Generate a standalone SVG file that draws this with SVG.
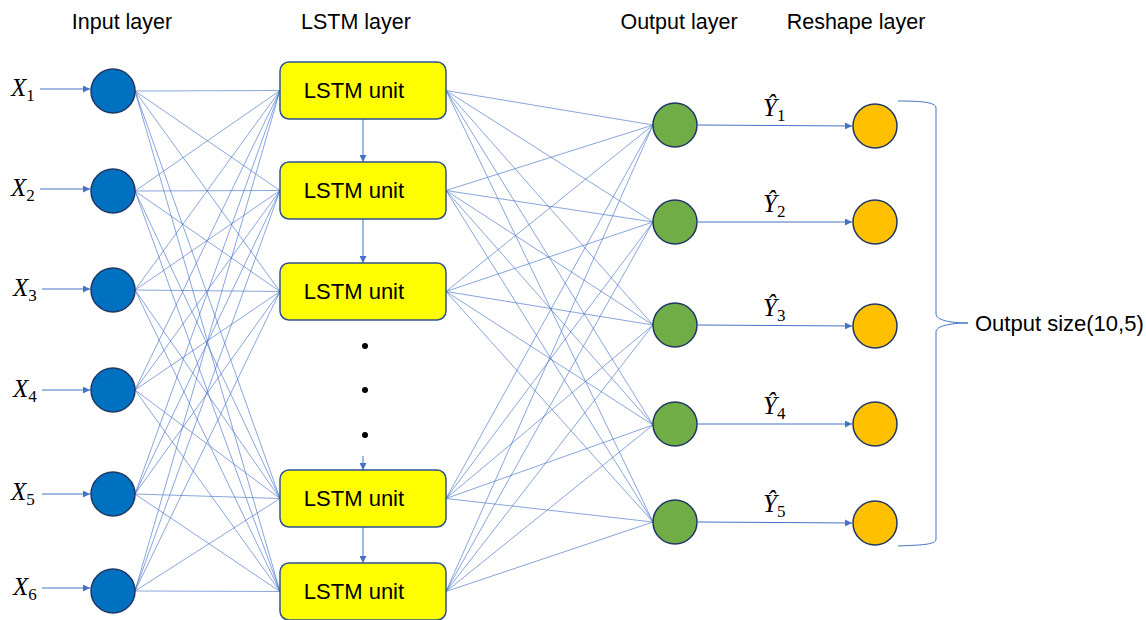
<svg xmlns="http://www.w3.org/2000/svg" width="1146" height="620" viewBox="0 0 1146 620">
<style>
.t{font-family:"Liberation Sans",Arial,sans-serif;fill:#000;font-size:22px}
.h{font-size:21.5px}
.m{font-family:"Liberation Serif","DejaVu Serif",serif;font-style:italic;fill:#000;font-size:25px}
.sub{font-size:17px;font-style:normal}
.c{stroke:#4472C4;stroke-width:0.75;fill:none;opacity:0.85}
.a{stroke:#4472C4;stroke-width:1;fill:none}
.in{fill:#0070C0;stroke:#203864;stroke-width:1.5}
.out{fill:#70AD47;stroke:#203864;stroke-width:1.5}
.rs{fill:#FFC000;stroke:#203864;stroke-width:1.5}
.box{fill:#FFFF00;stroke:#2F528F;stroke-width:1.5}
</style>
<defs>
<marker id="ah" viewBox="0 0 10 10" refX="10" refY="5" markerWidth="7" markerHeight="7" orient="auto" markerUnits="userSpaceOnUse">
<path d="M0,0 L10,5 L0,10 z" fill="#4472C4"/>
</marker>
</defs>
<g id="headers">
<text class="t h" x="122" y="29" text-anchor="middle">Input layer</text>
<text class="t h" x="356" y="29" text-anchor="middle">LSTM layer</text>
<text class="t h" x="679" y="29" text-anchor="middle">Output layer</text>
<text class="t h" x="856" y="29" text-anchor="middle">Reshape layer</text>
</g>
<g id="connectors">
<line class="a" x1="40" y1="89" x2="90" y2="89" marker-end="url(#ah)"/>
<line class="a" x1="40" y1="189" x2="90" y2="189" marker-end="url(#ah)"/>
<line class="a" x1="42" y1="289" x2="90" y2="289" marker-end="url(#ah)"/>
<line class="a" x1="42" y1="390" x2="90" y2="390" marker-end="url(#ah)"/>
<line class="a" x1="42" y1="494" x2="90" y2="494" marker-end="url(#ah)"/>
<line class="a" x1="42" y1="588" x2="90" y2="588" marker-end="url(#ah)"/>
<g id="in-lstm">
<path class="c" d="M135,91 L280,90.5 M135,91 L280,190.5 M135,91 L280,291.5 M135,91 L280,498.5 M135,91 L280,591.5"/>
<path class="c" d="M135,191 L280,90.5 M135,191 L280,190.5 M135,191 L280,291.5 M135,191 L280,498.5 M135,191 L280,591.5"/>
<path class="c" d="M135,290 L280,90.5 M135,290 L280,190.5 M135,290 L280,291.5 M135,290 L280,498.5 M135,290 L280,591.5"/>
<path class="c" d="M135,390 L280,90.5 M135,390 L280,190.5 M135,390 L280,291.5 M135,390 L280,498.5 M135,390 L280,591.5"/>
<path class="c" d="M135,494 L280,90.5 M135,494 L280,190.5 M135,494 L280,291.5 M135,494 L280,498.5 M135,494 L280,591.5"/>
<path class="c" d="M135,591 L280,90.5 M135,591 L280,190.5 M135,591 L280,291.5 M135,591 L280,498.5 M135,591 L280,591.5"/>
</g>
<g id="lstm-out">
<path class="c" d="M446,90.5 L653,125 M446,90.5 L653,222 M446,90.5 L653,325 M446,90.5 L653,425 M446,90.5 L653,522"/>
<path class="c" d="M446,190.5 L653,125 M446,190.5 L653,222 M446,190.5 L653,325 M446,190.5 L653,425 M446,190.5 L653,522"/>
<path class="c" d="M446,291.5 L653,125 M446,291.5 L653,222 M446,291.5 L653,325 M446,291.5 L653,425 M446,291.5 L653,522"/>
<path class="c" d="M446,498.5 L653,125 M446,498.5 L653,222 M446,498.5 L653,325 M446,498.5 L653,425 M446,498.5 L653,522"/>
<path class="c" d="M446,591.5 L653,125 M446,591.5 L653,222 M446,591.5 L653,325 M446,591.5 L653,425 M446,591.5 L653,522"/>
</g>
<line class="a" x1="363" y1="119" x2="363" y2="162" marker-end="url(#ah)"/>
<line class="a" x1="363" y1="219" x2="363" y2="263" marker-end="url(#ah)"/>
<line class="a" x1="363" y1="456" x2="363" y2="470" marker-end="url(#ah)"/>
<line class="a" x1="363" y1="527" x2="363" y2="563" marker-end="url(#ah)"/>
<line class="a" x1="698" y1="125" x2="852" y2="126" marker-end="url(#ah)"/>
<line class="a" x1="698" y1="222" x2="852" y2="222" marker-end="url(#ah)"/>
<line class="a" x1="698" y1="325" x2="852" y2="326" marker-end="url(#ah)"/>
<line class="a" x1="698" y1="424" x2="852" y2="424" marker-end="url(#ah)"/>
<line class="a" x1="698" y1="522" x2="852" y2="523" marker-end="url(#ah)"/>
<path class="a" d="M898,101 C920,101 936,102 936,108 L936,314 C936,320 950,323 968,323 C950,323 936,326 936,332 L936,539 C936,545 920,545 898,546"/>
</g>
<g id="input-labels">
<text class="m" x="11" y="96">X<tspan class="sub" dy="5">1</tspan></text>
<text class="m" x="11" y="196">X<tspan class="sub" dy="5">2</tspan></text>
<text class="m" x="13" y="296">X<tspan class="sub" dy="5">3</tspan></text>
<text class="m" x="13" y="397">X<tspan class="sub" dy="5">4</tspan></text>
<text class="m" x="11" y="500">X<tspan class="sub" dy="5">5</tspan></text>
<text class="m" x="13" y="595">X<tspan class="sub" dy="5">6</tspan></text>
</g>
<g id="input-nodes">
<circle id="in1" class="in" cx="113" cy="91" r="22"/>
<circle id="in2" class="in" cx="113" cy="191" r="22"/>
<circle id="in3" class="in" cx="113" cy="290" r="22"/>
<circle id="in4" class="in" cx="113" cy="390" r="22"/>
<circle id="in5" class="in" cx="113" cy="494" r="22"/>
<circle id="in6" class="in" cx="113" cy="591" r="22"/>
</g>
<g id="lstm1"><rect class="box" x="280" y="62" width="166" height="57" rx="9"/><text class="t" x="354" y="98" text-anchor="middle">LSTM unit</text></g>
<g id="lstm2"><rect class="box" x="280" y="162" width="166" height="57" rx="9"/><text class="t" x="354" y="198" text-anchor="middle">LSTM unit</text></g>
<g id="lstm3"><rect class="box" x="280" y="263" width="166" height="57" rx="9"/><text class="t" x="354" y="299" text-anchor="middle">LSTM unit</text></g>
<g id="dots" fill="#000"><circle cx="365" cy="346" r="3"/><circle cx="365" cy="390" r="3"/><circle cx="365" cy="435" r="3"/></g>
<g id="lstm4"><rect class="box" x="280" y="470" width="166" height="57" rx="9"/><text class="t" x="354" y="506" text-anchor="middle">LSTM unit</text></g>
<g id="lstm5"><rect class="box" x="280" y="563" width="166" height="57" rx="9"/><text class="t" x="354" y="599" text-anchor="middle">LSTM unit</text></g>
<g id="output-nodes">
<circle id="o1" class="out" cx="675" cy="125" r="22"/>
<circle id="o2" class="out" cx="675" cy="222" r="22"/>
<circle id="o3" class="out" cx="675" cy="325" r="22"/>
<circle id="o4" class="out" cx="675" cy="424" r="22"/>
<circle id="o5" class="out" cx="675" cy="522" r="22"/>
</g>
<g id="y-labels">
<text class="m" x="763" y="116">Ŷ<tspan class="sub" dy="5">1</tspan></text>
<text class="m" x="763" y="212">Ŷ<tspan class="sub" dy="5">2</tspan></text>
<text class="m" x="763" y="316">Ŷ<tspan class="sub" dy="5">3</tspan></text>
<text class="m" x="763" y="414">Ŷ<tspan class="sub" dy="5">4</tspan></text>
<text class="m" x="763" y="512">Ŷ<tspan class="sub" dy="5">5</tspan></text>
</g>
<g id="reshape-nodes">
<circle id="r1" class="rs" cx="875" cy="126" r="22"/>
<circle id="r2" class="rs" cx="875" cy="222" r="22"/>
<circle id="r3" class="rs" cx="875" cy="326" r="22"/>
<circle id="r4" class="rs" cx="875" cy="424" r="22"/>
<circle id="r5" class="rs" cx="875" cy="523" r="22"/>
</g>
<g id="output-size"><text class="t" x="975" y="331">Output size(10,5)</text></g>
</svg>
